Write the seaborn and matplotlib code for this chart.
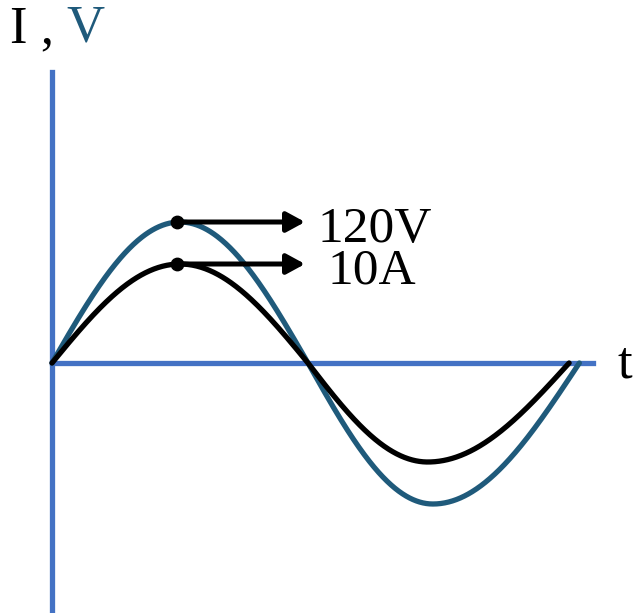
import numpy as np
import pandas as pd
import matplotlib
matplotlib.use("Agg")
import matplotlib.pyplot as plt
import seaborn as sns

# Chart values
v_peak = 120          # volts
i_peak = 10           # amps
t_zero = 0.5          # first zero crossing (in periods)
v_trough = 0.744      # time of the voltage minimum
i_trough = 0.734      # time of the current minimum
v_end = 1.03          # end of the voltage cycle
i_end = 1.01          # end of the current cycle
peak_t = 0.245        # where the peak markers sit
labels = ["120V", "10A"]

V_COLOR = "#1f5a7b"
AXIS_COLOR = "#4472c4"


def wave(peak, trough, end, n=300):
    # one cycle: a positive half arch, then two quarter arches below zero
    t1 = np.linspace(0, t_zero, n)
    t2 = np.linspace(t_zero, trough, n)
    t3 = np.linspace(trough, end, n)
    y1 = peak * np.sin(np.pi * t1 / t_zero)
    y2 = -peak * np.sin(0.5 * np.pi * (t2 - t_zero) / (trough - t_zero))
    y3 = -peak * np.cos(0.5 * np.pi * (t3 - trough) / (end - trough))
    return pd.DataFrame({"t": np.r_[t1, t2, t3], "y": np.r_[y1, y2, y3]})


sns.set_style("white")
plt.rcParams["font.family"] = ["Liberation Serif", "DejaVu Serif"]

W, H = 636, 613
fig = plt.figure(figsize=(W / 100, H / 100), dpi=100)
ax = fig.add_axes([0, 0, 1, 1])
ax_i = ax.twinx()

# scales: origin at px (52, 363)
px_per_t = 512
ax.set_xlim(-52 / px_per_t, (W - 52) / px_per_t)
ax_i.set_xlim(ax.get_xlim())
v_scale = 141 / v_peak
i_scale = 99 / i_peak
ax.set_ylim(-(H - 363) / v_scale, 363 / v_scale)
ax_i.set_ylim(-(H - 363) / i_scale, 363 / i_scale)

# current (black) and voltage (teal)
sns.lineplot(data=wave(i_peak, i_trough, i_end), x="t", y="y", ax=ax_i,
             color="black", lw=3.8, sort=False, estimator=None)
sns.lineplot(data=wave(v_peak, v_trough, v_end), x="t", y="y", ax=ax,
             color=V_COLOR, lw=3.8, sort=False, estimator=None)

# peak markers with arrows
arrow_end = (305 - 52) / px_per_t
for a, pk, lab, dx, base in [(ax, v_peak, labels[0], 317, 242),
                             (ax_i, i_peak, labels[1], 327, 283)]:
    a.scatter([peak_t], [pk], s=80, color="black", zorder=5)
    a.annotate("", xy=(arrow_end, pk), xytext=(peak_t, pk),
               arrowprops=dict(arrowstyle="-|>,head_length=1.1,head_width=0.6",
                               color="black", lw=3.6, shrinkA=0, shrinkB=0),
               zorder=5)
    fig.text(dx / W, 1 - base / H, lab, fontsize=37, va="baseline",
             ha="left", color="black")

# axes as blue lines
for a in (ax, ax_i):
    for s in a.spines.values():
        s.set_visible(False)
    a.set_xticks([])
    a.set_yticks([])
    a.set_xlabel("")
    a.set_ylabel("")
ax.spines["left"].set_visible(True)
ax.spines["left"].set_position(("data", 0))
ax.spines["left"].set_bounds(-(H - 363) / v_scale, (363 - 72) / v_scale)
ax.spines["bottom"].set_visible(True)
ax.spines["bottom"].set_position(("data", 0))
ax.spines["bottom"].set_bounds(0, (593 - 52) / px_per_t)
for k in ("left", "bottom"):
    ax.spines[k].set_color(AXIS_COLOR)
    ax.spines[k].set_linewidth(3.8)
    ax.spines[k].set_zorder(1)

# axis titles
fig.text(10 / W, 1 - 42 / H, "I ,", fontsize=38, va="baseline", color="black")
fig.text(66 / W, 1 - 42 / H, "V", fontsize=38, va="baseline", color=V_COLOR)
fig.text(617 / W, 1 - 378 / H, "t", fontsize=38, va="baseline", color="black")

fig.savefig("out.png", dpi=100, facecolor="white")
